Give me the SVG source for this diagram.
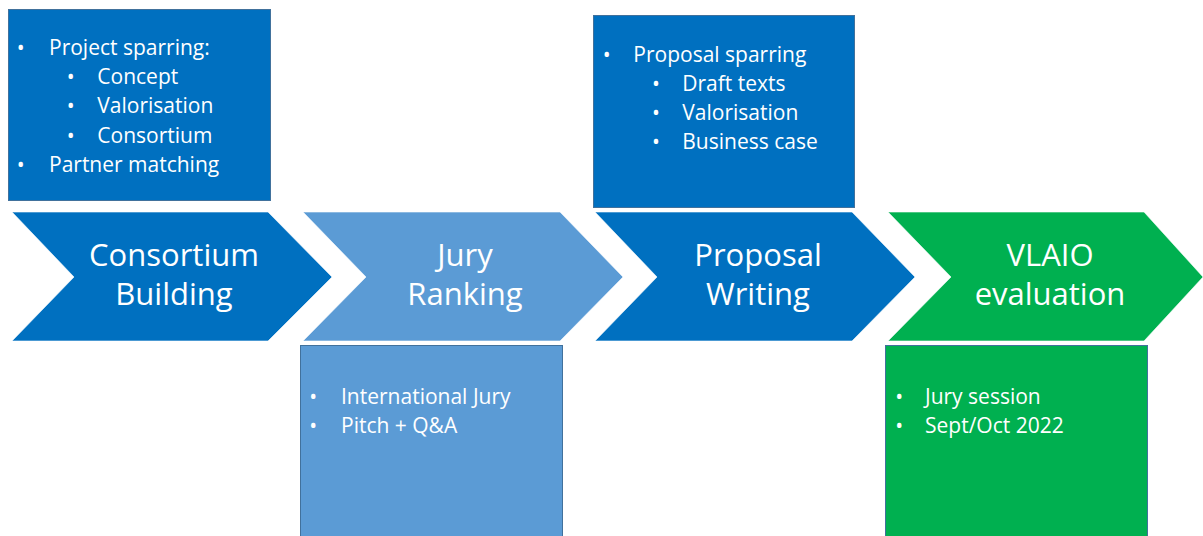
<svg xmlns="http://www.w3.org/2000/svg" width="1203" height="536" viewBox="0 0 1203 536">
<style>
.box{stroke:#41719C;stroke-width:1}
.dark{fill:#0070C0}
.light{fill:#5B9BD5}
.green{fill:#00B050}
.chev{stroke:#FFFFFF;stroke-width:1;stroke-opacity:0.6}
.title{font-family:"Open Sans","Noto Sans",sans-serif;font-size:31px;fill:#FFFFFF;text-anchor:middle}
.item{font-family:"Open Sans","Noto Sans",sans-serif;font-size:21px;fill:#FFFFFF}
</style>
<rect width="1203" height="536" fill="#FFFFFF"/>
<g id="connectors"/>
<g id="box-consortium">
<rect class="box dark" x="8.5" y="9.5" width="262" height="191"/>
<text class="item" x="20.7" y="55" text-anchor="middle">•</text><text class="item" x="49" y="55">Project sparring:</text>
<text class="item" x="70.7" y="84.2" text-anchor="middle">•</text><text class="item" x="97.3" y="84.2">Concept</text>
<text class="item" x="70.7" y="113.4" text-anchor="middle">•</text><text class="item" x="97.3" y="113.4">Valorisation</text>
<text class="item" x="70.7" y="142.6" text-anchor="middle">•</text><text class="item" x="97.3" y="142.6">Consortium</text>
<text class="item" x="20.7" y="171.8" text-anchor="middle">•</text><text class="item" x="49" y="171.8">Partner matching</text>
</g>
<g id="step-consortium">
<polygon class="chev dark" points="12,212 268,212 332,277 268,341 12,341 74,277"/>
<text class="title" x="174" y="266">Consortium</text>
<text class="title" x="174" y="305">Building</text>
</g>
<g id="step-jury">
<polygon class="chev light" points="303,212 560,212 623,277 560,341 303,341 366,277"/>
<text class="title" x="465" y="266">Jury</text>
<text class="title" x="465" y="305">Ranking</text>
</g>
<g id="box-jury">
<rect class="box light" x="300.5" y="345.5" width="262" height="200"/>
<text class="item" x="313.3" y="404" text-anchor="middle">•</text><text class="item" x="341" y="404">International Jury</text>
<text class="item" x="313.3" y="433.3" text-anchor="middle">•</text><text class="item" x="341" y="433.3">Pitch + Q&amp;A</text>
</g>
<g id="box-proposal">
<rect class="box dark" x="593.5" y="15.5" width="261" height="192"/>
<text class="item" x="606.7" y="61.5" text-anchor="middle">•</text><text class="item" x="633.3" y="61.5">Proposal sparring</text>
<text class="item" x="656" y="90.8" text-anchor="middle">•</text><text class="item" x="682.3" y="90.8">Draft texts</text>
<text class="item" x="656" y="120" text-anchor="middle">•</text><text class="item" x="682.3" y="120">Valorisation</text>
<text class="item" x="656" y="149.3" text-anchor="middle">•</text><text class="item" x="682.3" y="149.3">Business case</text>
</g>
<g id="step-proposal">
<polygon class="chev dark" points="595,212 852,212 915,277 852,341 595,341 657,277"/>
<text class="title" x="758" y="266">Proposal</text>
<text class="title" x="758" y="305">Writing</text>
</g>
<g id="step-vlaio">
<polygon class="chev green" points="888,212 1144,212 1203,277 1144,341 888,341 951,277"/>
<text class="title" x="1050" y="266">VLAIO</text>
<text class="title" x="1050" y="305">evaluation</text>
</g>
<g id="box-vlaio">
<rect class="box green" x="885.5" y="345.5" width="262" height="200"/>
<text class="item" x="899.3" y="404.3" text-anchor="middle">•</text><text class="item" x="925" y="404.3">Jury session</text>
<text class="item" x="899.3" y="433.3" text-anchor="middle">•</text><text class="item" x="925" y="433.3">Sept/Oct 2022</text>
</g>
</svg>
